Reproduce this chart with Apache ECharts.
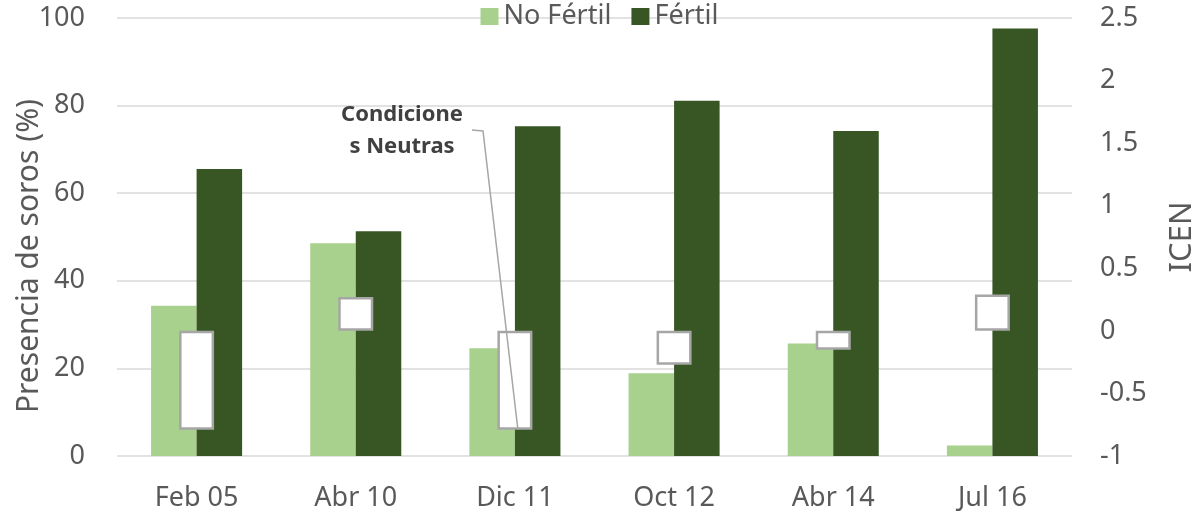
<!DOCTYPE html>
<html>
<head>
<meta charset="utf-8">
<script src="https://cdn.jsdelivr.net/npm/echarts@6/dist/echarts.min.js"></script>
<style>
  html, body { margin: 0; padding: 0; background: #fff; }
  #chart { width: 1199px; height: 515px; }
</style>
</head>
<body>
<div id="chart"></div>
<script>
const categories = ['Feb 05', 'Abr 10', 'Dic 11', 'Oct 12', 'Abr 14', 'Jul 16']
const noFertil = [34.3, 48.6, 24.6, 18.9, 25.7, 2.4]
const fertil = [65.5, 51.3, 75.3, 81.1, 74.2, 97.6]
const icen = [-0.79, 0.27, -0.79, -0.27, -0.15, 0.29]

const FONT = '"Noto Sans", "Open Sans", sans-serif'
const chart = echarts.init(document.getElementById('chart'))

chart.setOption({
  animation: false,
  textStyle: { fontFamily: FONT },
  grid: { left: 117, right: 127, top: 18, bottom: 59, outerBoundsMode: 'none' },
  legend: {
    top: -2,
    left: 'center',
    icon: 'rect',
    itemWidth: 18,
    itemHeight: 17,
    itemGap: 20,
    itemStyle: { borderWidth: 0 },
    textStyle: { fontSize: 27, color: '#595959', fontFamily: FONT },
    data: ['No Fértil', 'Fértil']
  },
  xAxis: [
    {
      type: 'category',
      data: categories,
      axisLine: { show: false },
      axisTick: { show: false },
      axisLabel: { fontSize: 27, color: '#595959', margin: 29 }
    },
    {
      type: 'category',
      data: categories,
      show: false
    }
  ],
  yAxis: [
    {
      type: 'value',
      min: 0,
      max: 100,
      interval: 20,
      name: 'Presencia de soros (%)',
      nameLocation: 'middle',
      nameGap: 73,
      nameMoveOverlap: false,
      nameTextStyle: { fontSize: 30, color: '#595959', padding: [0, 38, 0, 0] },
      axisLabel: { fontSize: 27, color: '#595959', margin: 32 },
      splitLine: { lineStyle: { color: '#d9d9d9', width: 1.5 } }
    },
    {
      type: 'value',
      min: -1,
      max: 2.5,
      interval: 0.5,
      position: 'right',
      name: 'ICEN',
      nameLocation: 'middle',
      nameRotate: 90,
      nameGap: 95,
      nameTextStyle: { fontSize: 31, color: '#595959' },
      axisLabel: { fontSize: 27, color: '#595959', margin: 28 },
      splitLine: { show: false }
    }
  ],
  series: [
    {
      name: 'No Fértil',
      type: 'bar',
      data: noFertil,
      barWidth: '28.6%',
      barGap: '0%',
      itemStyle: { color: '#a9d18e' }
    },
    {
      name: 'Fértil',
      type: 'bar',
      data: fertil,
      barWidth: '28.6%',
      barGap: '0%',
      itemStyle: { color: '#375623' }
    },
    {
      // ICEN boxes, drawn over the pairs on the right axis
      name: 'ICEN',
      type: 'bar',
      xAxisIndex: 1,
      yAxisIndex: 1,
      data: icen,
      barWidth: 35,
      z: 5,
      itemStyle: { color: '#ffffff', borderColor: '#a6a6a6', borderWidth: 2.5 }
    }
  ]
})

// leader line from the note to the bottom of the Dic 11 box
const end = chart.convertToPixel({ xAxisIndex: 1, yAxisIndex: 1 }, ['Dic 11', icen[2]])
chart.setOption({
  graphic: [
    {
      type: 'text',
      x: 402,
      y: 99,
      style: {
        text: 'Condicione\ns Neutras',
        font: 'bold 22px ' + FONT,
        fill: '#404040',
        align: 'center',
        lineHeight: 31.5
      }
    },
    {
      type: 'polyline',
      shape: { points: [[472, 130], [483, 131], [end[0] + 3, end[1]]] },
      style: { stroke: '#a6a6a6', lineWidth: 1.5, fill: null },
      z: 10
    }
  ]
})
</script>
</body>
</html>
